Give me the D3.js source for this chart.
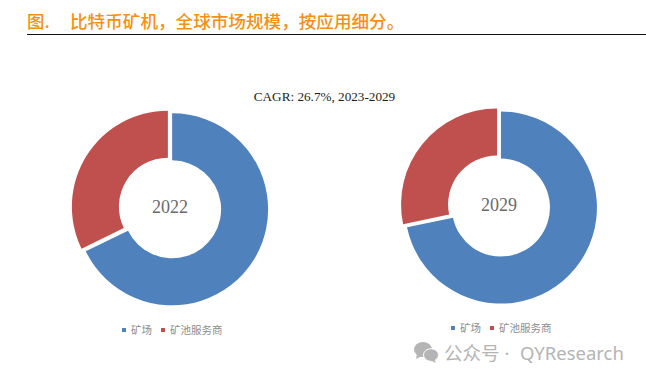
<!DOCTYPE html>
<html lang="zh">

<head>
    <meta charset="utf-8">
    <script src="https://d3js.org/d3.v7.min.js"></script>
    <style>
        html, body { margin: 0; padding: 0; background: #fff; }
        svg { display: block; }
    </style>
</head>

<body>
    <script>
        const categories = ["矿场", "矿池服务商"];
        const years = ["2022", "2029"];
        const share2022 = [67.8, 32.2];
        const share2029 = [71.7, 28.3];
        const titleLabel = "图.";
        const titleText = "比特币矿机，全球市场规模，按应用细分。";
        const cagrText = "CAGR: 26.7%, 2023-2029";

        const width = 646;
        const height = 380;
        const cjk = "'Noto Sans CJK SC', 'Noto Sans', sans-serif";
        const serif = "'Liberation Serif', 'DejaVu Serif', serif";

        const color = d3.scaleOrdinal().domain(categories).range(["#4f81bd", "#c0504d"]);

        const svg = d3.select("body").append("svg")
            .attr("width", width)
            .attr("height", height);

        // heading and rule
        svg.append("text").text(titleLabel)
            .attr("x", 27).attr("y", 28)
            .style("font-family", cjk).style("font-size", "17.5px").style("font-weight", 500)
            .attr("fill", "#f78f12");
        svg.append("text").text(titleText)
            .attr("x", 70).attr("y", 28)
            .style("font-family", cjk).style("font-size", "17.6px").style("font-weight", 500)
            .attr("fill", "#f78f12");
        svg.append("line")
            .attr("x1", 27).attr("x2", width).attr("y1", 34.5).attr("y2", 34.5)
            .attr("stroke", "#111").attr("stroke-width", 1.2);

        svg.append("text").text(cagrText)
            .attr("x", 324.5).attr("y", 101).attr("text-anchor", "middle")
            .style("font-family", serif).style("font-size", "13.2px")
            .attr("fill", "#222");

        const pie = d3.pie().sort(null).value(d => d.value);
        const arc = d3.arc().innerRadius(49).outerRadius(96);
        const explode = 2.5;

        function drawDonut(year, values, cx, cy, legendX, legendY) {
            const g = svg.append("g").attr("transform", "translate(" + cx + "," + cy + ")");
            const rows = categories.map((c, i) => ({ name: c, value: values[i] }));

            g.selectAll("path")
                .data(pie(rows))
                .enter()
                .append("path")
                .attr("d", arc)
                .attr("fill", d => color(d.data.name))
                .attr("transform", d => {
                    // push each wedge out along its middle angle
                    const mid = (d.startAngle + d.endAngle) / 2;
                    return "translate(" + Math.sin(mid) * explode + "," + -Math.cos(mid) * explode + ")";
                });

            g.append("text").text(year)
                .attr("y", 5).attr("text-anchor", "middle")
                .style("font-family", serif).style("font-size", "18px")
                .attr("fill", "#6a6a6a");

            // legend
            const legend = svg.append("g").attr("transform", "translate(" + legendX + "," + legendY + ")");
            const itemX = [0, 39];
            const item = legend.selectAll("g")
                .data(categories)
                .enter()
                .append("g")
                .attr("transform", (d, i) => "translate(" + itemX[i] + ",0)");
            item.append("rect")
                .attr("x", 0).attr("y", -2).attr("width", 4).attr("height", 4)
                .attr("fill", d => color(d));
            item.append("text").text(d => d)
                .attr("x", 9).attr("y", 3.7)
                .style("font-family", cjk).style("font-size", "10.5px")
                .attr("fill", "#8c8c8c");
        }

        drawDonut(years[0], share2022, 170, 208, 122, 330);
        drawDonut(years[1], share2029, 499, 206, 451, 328);

        // watermark
        const mark = svg.append("g").attr("fill", "#b4b4b4");
        mark.append("ellipse").attr("cx", 423).attr("cy", 349.5).attr("rx", 9).attr("ry", 7.5);
        mark.append("path").attr("d", "M417 354 L416 359 L422 356 Z");
        mark.append("ellipse").attr("cx", 431).attr("cy", 355).attr("rx", 7.5).attr("ry", 6.3)
            .attr("stroke", "#fff").attr("stroke-width", 1);
        mark.append("path").attr("d", "M434 359 L436 363 L430 360 Z");
        mark.append("text").text("公众号")
            .attr("x", 444).attr("y", 360)
            .style("font-family", cjk).style("font-size", "18.5px");
        mark.append("text").text("·")
            .attr("x", 507).attr("y", 360).attr("text-anchor", "middle")
            .style("font-family", "'Noto Sans', sans-serif").style("font-size", "18.5px");
        mark.append("text").text("QYResearch")
            .attr("x", 520).attr("y", 360)
            .style("font-family", "'Noto Sans', sans-serif").style("font-size", "18.5px");
    </script>
</body>

</html>
